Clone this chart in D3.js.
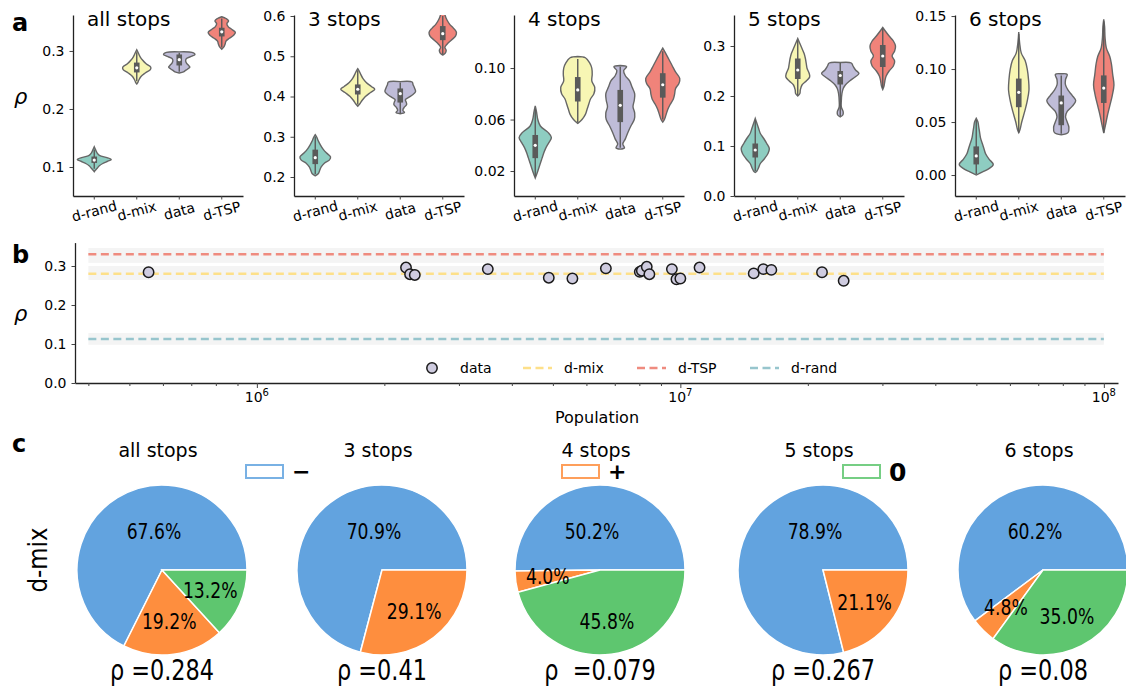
<!DOCTYPE html>
<html><head><meta charset="utf-8">
<script src="https://cdn.jsdelivr.net/npm/d3@7"></script>
<style>body{margin:0;background:#fff} svg{display:block} text{font-family:"DejaVu Sans",sans-serif;fill:#000}</style>
</head><body><svg id="chart" width="1126" height="689"></svg>
<script>
// ---------------- DATA ----------------
const categories = ["d-rand", "d-mix", "data", "d-TSP"];
const stopTitles = ["all stops", "3 stops", "4 stops", "5 stops", "6 stops"];
const violinColors = ["#8ecdc1", "#f7f6b4", "#bfbcd8", "#f0837a"];
const violinDomains = [[0.05, 0.362], [0.1528, 0.6025], [0.0006, 0.1412], [0, 0.362], [-0.0198, 0.151]];
const violinTicks = [[0.1, 0.2, 0.3], [0.2, 0.3, 0.4, 0.5, 0.6], [0.02, 0.06, 0.10], [0.0, 0.1, 0.2, 0.3], [0.00, 0.05, 0.10, 0.15]];
const violinTickFormats = [".1f", ".1f", ".2f", ".1f", ".2f"];

// violin density outlines: [value, half-width as fraction of category spacing]
const violinProfiles = [
  [ // all stops
    [[0.135,0],[0.13,0.03],[0.125,0.06],[0.12,0.12],[0.116,0.3],[0.113,0.4],[0.110,0.32],[0.106,0.2],[0.102,0.12],[0.098,0.07],[0.094,0.02],[0.092,0]],
    [[0.302,0],[0.296,0.04],[0.29,0.08],[0.284,0.14],[0.278,0.22],[0.272,0.33],[0.268,0.32],[0.262,0.2],[0.256,0.1],[0.25,0.05],[0.245,0.02],[0.243,0]],
    [[0.2985,0],[0.2975,0.3],[0.294,0.37],[0.291,0.3],[0.287,0.17],[0.283,0.15],[0.279,0.17],[0.275,0.22],[0.272,0.25],[0.269,0.2],[0.266,0.14],[0.264,0.1],[0.262,0]],
    [[0.359,0],[0.356,0.1],[0.352,0.16],[0.347,0.12],[0.342,0.15],[0.337,0.24],[0.332,0.32],[0.327,0.28],[0.322,0.18],[0.317,0.1],[0.312,0.08],[0.307,0.05],[0.303,0]]
  ],
  [ // 3 stops
    [[0.305,0],[0.298,0.04],[0.29,0.07],[0.28,0.12],[0.27,0.18],[0.26,0.26],[0.25,0.36],[0.242,0.33],[0.235,0.22],[0.225,0.14],[0.215,0.1],[0.208,0.07],[0.203,0]],
    [[0.469,0],[0.462,0.04],[0.455,0.07],[0.445,0.12],[0.435,0.2],[0.425,0.32],[0.418,0.4],[0.41,0.3],[0.4,0.18],[0.39,0.1],[0.382,0.05],[0.376,0]],
    [[0.437,0],[0.436,0.28],[0.43,0.3],[0.42,0.34],[0.412,0.36],[0.405,0.3],[0.398,0.2],[0.392,0.12],[0.386,0.14],[0.38,0.15],[0.374,0.1],[0.366,0.06],[0.36,0.1],[0.357,0]],
    [[0.615,0.03],[0.6,0.06],[0.59,0.1],[0.58,0.16],[0.57,0.25],[0.56,0.32],[0.55,0.3],[0.54,0.2],[0.53,0.1],[0.522,0.05],[0.515,0.08],[0.508,0.06],[0.503,0]]
  ],
  [ // 4 stops
    [[0.0705,0],[0.066,0.03],[0.06,0.06],[0.055,0.12],[0.05,0.3],[0.046,0.38],[0.042,0.32],[0.038,0.25],[0.034,0.2],[0.03,0.16],[0.026,0.12],[0.022,0.08],[0.018,0.04],[0.0145,0]],
    [[0.109,0],[0.108,0.18],[0.104,0.28],[0.1,0.33],[0.095,0.34],[0.09,0.33],[0.085,0.4],[0.08,0.38],[0.076,0.3],[0.072,0.26],[0.068,0.22],[0.064,0.18],[0.06,0.1],[0.057,0]],
    [[0.102,0],[0.101,0.15],[0.098,0.08],[0.094,0.12],[0.09,0.22],[0.085,0.28],[0.08,0.34],[0.075,0.33],[0.07,0.3],[0.065,0.34],[0.06,0.33],[0.055,0.25],[0.05,0.18],[0.045,0.12],[0.041,0.06],[0.038,0.1],[0.037,0]],
    [[0.1155,0],[0.112,0.06],[0.107,0.14],[0.102,0.22],[0.097,0.3],[0.092,0.4],[0.088,0.38],[0.084,0.3],[0.08,0.28],[0.076,0.25],[0.072,0.18],[0.068,0.12],[0.064,0.08],[0.06,0.04],[0.058,0]]
  ],
  [ // 5 stops
    [[0.155,0],[0.145,0.04],[0.135,0.08],[0.125,0.12],[0.115,0.2],[0.105,0.27],[0.095,0.33],[0.085,0.3],[0.075,0.22],[0.065,0.12],[0.057,0.08],[0.05,0.04],[0.047,0]],
    [[0.315,0],[0.305,0.05],[0.295,0.1],[0.285,0.15],[0.275,0.18],[0.265,0.2],[0.255,0.22],[0.245,0.27],[0.238,0.28],[0.23,0.2],[0.222,0.1],[0.212,0.06],[0.205,0.05],[0.2,0]],
    [[0.267,0],[0.266,0.26],[0.26,0.3],[0.252,0.36],[0.245,0.44],[0.238,0.35],[0.23,0.22],[0.222,0.12],[0.215,0.07],[0.205,0.04],[0.19,0.025],[0.178,0.025],[0.168,0.07],[0.162,0.06],[0.158,0]],
    [[0.337,0],[0.33,0.06],[0.32,0.15],[0.31,0.25],[0.3,0.3],[0.29,0.28],[0.28,0.22],[0.27,0.28],[0.26,0.25],[0.25,0.15],[0.24,0.08],[0.23,0.05],[0.22,0.03],[0.213,0]]
  ],
  [ // 6 stops
    [[0.0535,0],[0.05,0.04],[0.045,0.06],[0.04,0.08],[0.035,0.1],[0.03,0.14],[0.025,0.18],[0.02,0.22],[0.015,0.3],[0.01,0.4],[0.006,0.3],[0.003,0.15],[0.0,0]],
    [[0.135,0],[0.125,0.02],[0.115,0.06],[0.108,0.15],[0.1,0.2],[0.09,0.23],[0.08,0.24],[0.07,0.2],[0.06,0.14],[0.05,0.07],[0.043,0.03],[0.04,0]],
    [[0.0955,0],[0.095,0.14],[0.09,0.1],[0.085,0.1],[0.08,0.16],[0.075,0.26],[0.07,0.34],[0.065,0.26],[0.06,0.14],[0.055,0.1],[0.05,0.14],[0.045,0.18],[0.04,0.16],[0.038,0]],
    [[0.147,0],[0.14,0.02],[0.13,0.03],[0.12,0.06],[0.112,0.14],[0.105,0.18],[0.095,0.21],[0.085,0.24],[0.075,0.2],[0.065,0.14],[0.055,0.08],[0.047,0.04],[0.0395,0]]
  ]
];
// inner box: [whisker low, q1, median, q3, whisker high]
const violinBoxes = [
  [[0.097,0.107,0.112,0.118,0.13],[0.248,0.263,0.271,0.28,0.298],[0.264,0.275,0.285,0.294,0.297],[0.306,0.325,0.333,0.34,0.356]],
  [[0.207,0.232,0.248,0.268,0.3],[0.38,0.405,0.418,0.43,0.465],[0.358,0.385,0.407,0.42,0.435],[0.505,0.54,0.556,0.575,0.6]],
  [[0.016,0.03,0.04,0.048,0.068],[0.058,0.074,0.083,0.093,0.107],[0.038,0.058,0.071,0.083,0.101],[0.06,0.077,0.087,0.096,0.113]],
  [[0.05,0.077,0.092,0.105,0.152],[0.202,0.234,0.252,0.275,0.31],[0.16,0.223,0.241,0.25,0.266],[0.216,0.258,0.28,0.302,0.335]],
  [[0.001,0.01,0.018,0.027,0.052],[0.04,0.064,0.078,0.091,0.133],[0.039,0.047,0.068,0.075,0.094],[0.04,0.068,0.082,0.094,0.145]]
];

// panel b
const populations = [5.55e5, 2.25e6, 2.30e6, 2.36e6, 3.51e6, 4.89e6, 5.56e6, 6.67e6, 8.02e6, 8.11e6, 8.33e6, 8.45e6, 9.55e6, 9.79e6, 1.00e7, 1.11e7, 1.49e7, 1.57e7, 1.64e7, 2.16e7, 2.43e7];
const dataRho = [0.284, 0.296, 0.279, 0.277, 0.292, 0.270, 0.268, 0.294, 0.285, 0.288, 0.298, 0.279, 0.292, 0.266, 0.268, 0.296, 0.281, 0.292, 0.290, 0.284, 0.262];
const refNames = ["d-mix", "d-TSP", "d-rand"];
const refRho = [0.28, 0.33, 0.113];
const refLow = [0.264, 0.308, 0.098];
const refHigh = [0.30, 0.346, 0.128];
const refColors = ["#fde08a", "#ef8b7f", "#97c5cd"];
const bYTicks = [0.0, 0.1, 0.2, 0.3];
const bXMajor = [1e6, 1e7, 1e8];
const bXExp = ["6", "7", "8"];

// panel c
const pieTitles = ["all stops", "3 stops", "4 stops", "5 stops", "6 stops"];
const pieSigns = ["−", "+", "0"];
const pieColors = ["#62a3df", "#fe8e3e", "#5ec66f"];
const pieValues = [[67.6, 19.2, 13.2], [70.9, 29.1, 0], [50.2, 4.0, 45.8], [78.9, 21.1, 0], [60.2, 4.8, 35.0]];
const pieRho = ["ρ =0.284", "ρ =0.41", "ρ  =0.079", "ρ =0.267", "ρ =0.08"];

// ---------------- DRAW ----------------
const svg = d3.select("#chart");

// ===== Panel a =====
const aLeft = [73, 294, 514, 734, 955];
const aW = 170, aTop = 15, aBottom = 196;
svg.append("text").attr("x", 12).attr("y", 31).attr("font-size", 24).attr("font-weight", "bold").text("a");
svg.append("text").attr("x", 14).attr("y", 104).attr("font-size", 21).attr("font-style", "italic").text("ρ");

stopTitles.forEach((title, p) => {
  const g = svg.append("g");
  const x = d3.scaleBand().domain(categories).range([aLeft[p], aLeft[p] + aW]);
  const y = d3.scaleLinear().domain(violinDomains[p]).range([aBottom, aTop]);
  const bw = x.bandwidth();
  const clipId = "clip" + p;
  svg.append("clipPath").attr("id", clipId).append("rect")
    .attr("x", aLeft[p]).attr("y", aTop).attr("width", aW).attr("height", aBottom - aTop);
  const vg = g.append("g").attr("clip-path", `url(#${clipId})`);
  categories.forEach((c, i) => {
    const cx = x(c) + bw / 2;
    const area = d3.area().curve(d3.curveCatmullRom.alpha(0.5))
      .y(d => y(d[0])).x0(d => cx - d[1] * bw).x1(d => cx + d[1] * bw);
    vg.append("path").attr("d", area(violinProfiles[p][i]))
      .attr("fill", violinColors[i]).attr("stroke", "#666").attr("stroke-width", 1.4);
    const b = violinBoxes[p][i];
    vg.append("line").attr("x1", cx).attr("x2", cx).attr("y1", y(b[0])).attr("y2", y(b[4]))
      .attr("stroke", "#5a5a5a").attr("stroke-width", 1.4);
    vg.append("rect").attr("x", cx - 2.8).attr("width", 5.6).attr("y", y(b[3])).attr("height", y(b[1]) - y(b[3]))
      .attr("fill", "#5a5a5a");
    vg.append("circle").attr("cx", cx).attr("cy", y(b[2])).attr("r", 1.6).attr("fill", "#fff");
  });
  const ya = g.append("g").attr("transform", `translate(${aLeft[p]},0)`)
    .call(d3.axisLeft(y).tickValues(violinTicks[p]).tickFormat(d3.format(violinTickFormats[p])).tickSize(3.5).tickSizeOuter(0).tickPadding(5));
  const xa = g.append("g").attr("transform", `translate(0,${aBottom})`)
    .call(d3.axisBottom(x).tickSize(3.5).tickSizeOuter(0).tickFormat(""));
  [ya, xa].forEach(ax => {
    ax.select(".domain").attr("stroke", "#222").attr("stroke-width", 1.3);
    ax.selectAll(".tick line").attr("stroke", "#444");
    ax.selectAll(".tick text").attr("font-size", 14).attr("fill", "#111").attr("font-family", "DejaVu Sans");
  });
  categories.forEach(c => {
    g.append("text").attr("transform", `translate(${x(c) + bw / 2},${211}) rotate(-15)`)
      .attr("text-anchor", "middle").attr("dominant-baseline", "central").attr("font-size", 14).text(c);
  });
  g.append("text").attr("x", aLeft[p] + 14).attr("y", 26).attr("font-size", 20).text(title);
});

// ===== Panel b =====
const bx = d3.scaleLog().domain([3.72e5, 1.08e8]).range([75, 1118]);
const by = d3.scaleLinear().domain([0, 0.36]).range([383, 242.6]);
const gb = svg.append("g");
svg.append("text").attr("x", 12).attr("y", 263).attr("font-size", 24).attr("font-weight", "bold").text("b");
svg.append("text").attr("x", 14).attr("y", 321).attr("font-size", 21).attr("font-style", "italic").text("ρ");

const xSpan = [4e5, 1e8];
refRho.forEach((r, i) => {
  gb.append("rect").attr("x", bx(xSpan[0])).attr("width", bx(xSpan[1]) - bx(xSpan[0]))
    .attr("y", by(refHigh[i])).attr("height", by(refLow[i]) - by(refHigh[i])).attr("fill", "#f4f4f4");
});
refRho.forEach((r, i) => {
  gb.append("line").attr("x1", bx(xSpan[0])).attr("x2", bx(xSpan[1])).attr("y1", by(r)).attr("y2", by(r))
    .attr("stroke", refColors[i]).attr("stroke-width", 2.5).attr("stroke-dasharray", "8,4.5");
});
gb.selectAll("circle.pt").data(populations).enter().append("circle").attr("class", "pt")
  .attr("cx", d => bx(d)).attr("cy", (d, i) => by(dataRho[i])).attr("r", 5.2)
  .attr("fill", "#cfcce0").attr("stroke", "#1a1a1a").attr("stroke-width", 1.5);

const yaB = gb.append("g").attr("transform", "translate(75,0)")
  .call(d3.axisLeft(by).tickValues(bYTicks).tickFormat(d3.format(".1f")).tickSize(3.5).tickSizeOuter(0).tickPadding(5));
const minorTicks = [];
[1e5, 1e6, 1e7].forEach(dec => { for (let k = 2; k <= 9; k++) { const v = dec * k; if (v > 3.72e5 && v < 1.08e8) minorTicks.push(v); } });
const xaBminor = gb.append("g").attr("transform", "translate(0,383)")
  .call(d3.axisBottom(bx).tickValues(minorTicks).tickSize(3).tickSizeOuter(0).tickFormat(""));
const xaBmajor = gb.append("g").attr("transform", "translate(0,383)")
  .call(d3.axisBottom(bx).tickValues(bXMajor).tickSize(5).tickSizeOuter(0).tickFormat(""));
xaBmajor.select(".domain").remove();
[yaB, xaBminor, xaBmajor].forEach(ax => {
  ax.select(".domain").attr("stroke", "#222").attr("stroke-width", 1.3);
  ax.selectAll(".tick line").attr("stroke", "#444");
  ax.selectAll(".tick text").attr("font-size", 14).attr("fill", "#111").attr("font-family", "DejaVu Sans");
});
bXMajor.forEach((v, i) => {
  const t = gb.append("text").attr("x", bx(v)).attr("y", 402).attr("text-anchor", "middle").attr("font-size", 14);
  t.append("tspan").text("10");
  t.append("tspan").attr("dy", -6).attr("font-size", 10).text(bXExp[i]);
});
gb.append("text").attr("x", 597).attr("y", 423).attr("text-anchor", "middle").attr("font-size", 16).text("Population");

// legend b
const lg = gb.append("g");
lg.append("circle").attr("cx", 432).attr("cy", 368).attr("r", 5.2).attr("fill", "#cfcce0").attr("stroke", "#1a1a1a").attr("stroke-width", 1.5);
lg.append("text").attr("x", 460).attr("y", 373).attr("font-size", 14).text("data");
const legX = [523, 637, 750];
refNames.forEach((n, i) => {
  lg.append("line").attr("x1", legX[i]).attr("x2", legX[i] + 29).attr("y1", 368).attr("y2", 368)
    .attr("stroke", refColors[i]).attr("stroke-width", 2.5).attr("stroke-dasharray", "8,4.5");
  lg.append("text").attr("x", legX[i] + 41).attr("y", 373).attr("font-size", 14).text(n);
});

// ===== Panel c =====
svg.append("text").attr("x", 12).attr("y", 452).attr("font-size", 24).attr("font-weight", "bold").text("c");
svg.append("text").attr("transform", "translate(47,560) rotate(-90) scale(0.88,1)")
  .attr("text-anchor", "middle").attr("font-size", 26).text("d-mix");

const pieCx = [162, 382, 600, 823, 1043];
const pieCy = 570, R = 85;
const pie = d3.pie().sort(null).startAngle(Math.PI / 2).endAngle(Math.PI / 2 - 2 * Math.PI);
const arc = d3.arc().innerRadius(0).outerRadius(R);
const labelArc = d3.arc().innerRadius(R * 0.62).outerRadius(R * 0.62);

pieTitles.forEach((t, p) => {
  const g = svg.append("g").attr("transform", `translate(${pieCx[p]},${pieCy})`);
  const arcs = pie(pieValues[p]);
  g.selectAll("path").data(arcs).enter().append("path")
    .attr("d", d => d.value > 0 ? arc(d) : null)
    .attr("fill", (d, i) => pieColors[i]).attr("stroke", "#fff").attr("stroke-width", 1.5);
  arcs.forEach((d, i) => {
    if (d.value <= 0) return;
    const pos = i === 0 ? [-8, -0.45 * R] : labelArc.centroid(d);
    g.append("text").attr("transform", `translate(${pos[0]},${pos[1]}) scale(0.82,1)`)
      .attr("text-anchor", "middle").attr("dominant-baseline", "central").attr("font-size", 21)
      .text(d3.format(".1f")(d.value) + "%");
  });
  svg.append("text").attr("x", pieCx[p] - 4).attr("y", 457).attr("text-anchor", "middle").attr("font-size", 19).text(t);
  svg.append("text").attr("transform", `translate(${pieCx[p]},${680}) scale(0.8,1)`)
    .attr("text-anchor", "middle").attr("font-size", 28).style("white-space", "pre").text(pieRho[p]);
});

// legend c
const legBoxX = [246, 562, 843];
pieSigns.forEach((s, i) => {
  svg.append("rect").attr("x", legBoxX[i]).attr("y", 465).attr("width", 37).attr("height", 13)
    .attr("fill", "#fff").attr("stroke", pieColors[i]).attr("stroke-opacity", 0.85).attr("stroke-width", 2);
  svg.append("text").attr("x", legBoxX[i] + 46).attr("y", i === 2 ? 481 : 479).attr("font-size", i === 2 ? 25 : 22)
    .attr("font-weight", "bold").text(s);
});
</script></body></html>
